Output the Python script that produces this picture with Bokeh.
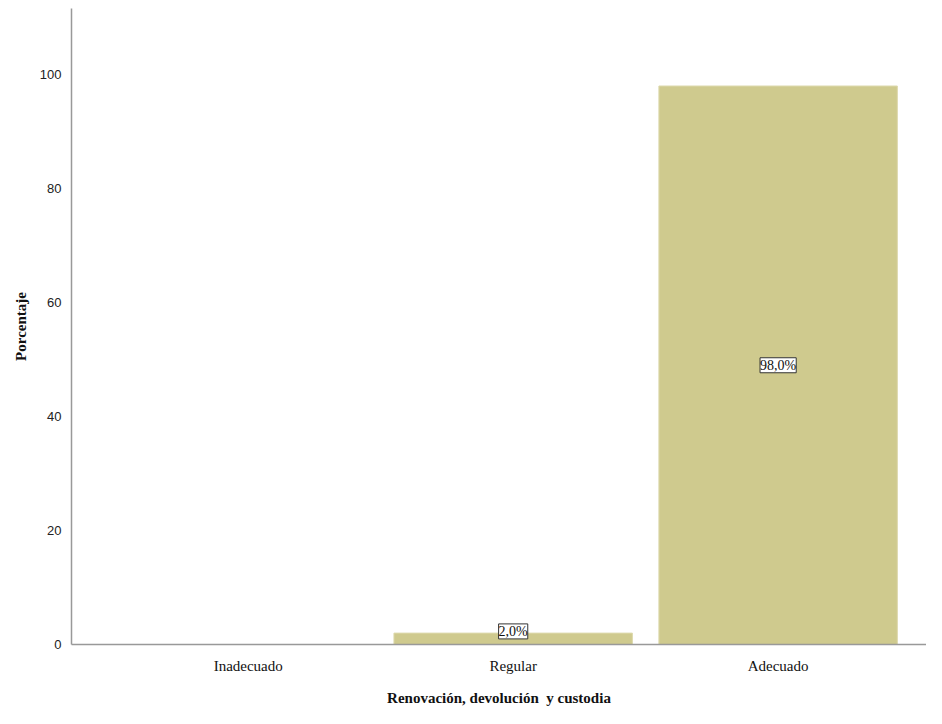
from bokeh.plotting import figure
from bokeh.models import ColumnDataSource, Range1d, FixedTicker, LabelSet
from bokeh.embed import file_html
from bokeh.resources import INLINE

categories = ["Inadecuado", "Regular", "Adecuado"]
percentages = [0.0, 2.0, 98.0]
label_texts = ["", "2,0%", "98,0%"]
y_ticks = [0, 20, 40, 60, 80, 100]

xs = list(range(len(categories)))
label_y = [max(v / 2, 2.3) for v in percentages]

src = ColumnDataSource(dict(x=xs, top=percentages))
lab_idx = [i for i, v in enumerate(percentages) if v > 0]
lab_src = ColumnDataSource(dict(
    x=[xs[i] for i in lab_idx],
    y=[label_y[i] for i in lab_idx],
    text=[label_texts[i] for i in lab_idx],
))

p = figure(width=926, height=708, output_backend="svg", toolbar_location=None,
           x_range=Range1d(-0.667, 2.56), y_range=Range1d(0, 111.6),
           min_border_left=71, min_border_right=0, min_border_top=8,
           min_border_bottom=64)

p.vbar(x="x", top="top", width=0.9, bottom=0, source=src,
       fill_color="#cfca8e", line_color="#ddd9ad", line_width=1)

labels = LabelSet(x="x", y="y", text="text", source=lab_src,
                  text_align="center", text_baseline="middle",
                  text_font="Liberation Serif", text_font_size="14px",
                  text_color="#111111",
                  background_fill_color="white", border_line_color="#333333",
                  border_line_width=1)
p.add_layout(labels)

p.outline_line_color = None
p.xgrid.grid_line_color = None
p.ygrid.grid_line_color = None

p.yaxis.ticker = FixedTicker(ticks=y_ticks)
p.yaxis.major_tick_line_color = None
p.yaxis.minor_tick_line_color = None
p.yaxis.axis_line_color = "#999999"
p.yaxis.axis_line_width = 1.5
p.yaxis.major_label_text_font = "Liberation Sans"
p.yaxis.major_label_text_font_size = "13px"
p.yaxis.major_label_text_color = "#222222"
p.yaxis.major_label_standoff = 4
p.yaxis.axis_label = "Porcentaje"
p.yaxis.axis_label_text_font = "Liberation Serif"
p.yaxis.axis_label_text_font_style = "bold"
p.yaxis.axis_label_text_font_size = "15px"
p.yaxis.axis_label_text_color = "#111111"
p.yaxis.axis_label_standoff = 8

p.xaxis.ticker = FixedTicker(ticks=xs)
p.xaxis.major_label_overrides = {i: c for i, c in zip(xs, categories)}
p.xaxis.major_tick_line_color = None
p.xaxis.minor_tick_line_color = None
p.xaxis.axis_line_color = "#999999"
p.xaxis.axis_line_width = 1.5
p.xaxis.major_label_text_font = "Liberation Serif"
p.xaxis.major_label_text_font_size = "15px"
p.xaxis.major_label_text_color = "#111111"
p.xaxis.major_label_standoff = 7
p.xaxis.axis_label = "Renovación, devolución\u00a0 y custodia"
p.xaxis.axis_label_text_font = "Liberation Serif"
p.xaxis.axis_label_text_font_style = "bold"
p.xaxis.axis_label_text_font_size = "15px"
p.xaxis.axis_label_text_color = "#111111"
p.xaxis.axis_label_standoff = 13

open("out.html", "w").write(file_html(p, INLINE))
